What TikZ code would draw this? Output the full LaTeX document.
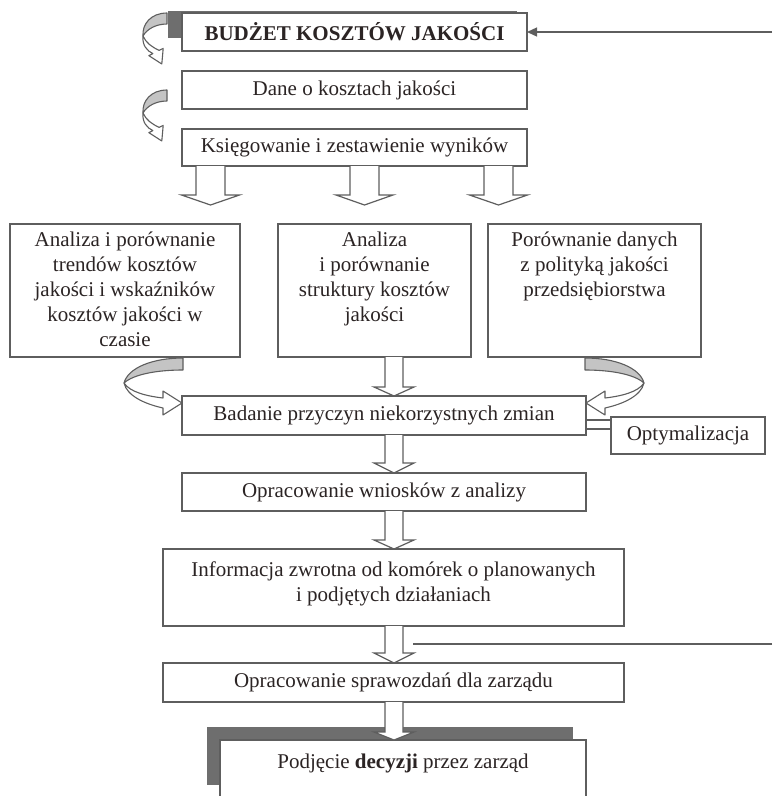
\documentclass[tikz,border=0pt]{standalone}
\usepackage{fontspec}
\setmainfont{Liberation Serif}
\usetikzlibrary{calc,arrows.meta}
\definecolor{linecol}{HTML}{5E5E5E}
\definecolor{txtcol}{HTML}{2B2424}
\definecolor{shadecol}{HTML}{6E6E6E}
\definecolor{bandcol}{HTML}{C4C4C4}
\newcommand\fs{\fontsize{21}{25}\selectfont}
% hollow block arrow: start point, tip point, shaft half width, head half width, head length
\newcommand\barrow[5]{%
  \draw[blk] ($(#1)+({-#3},0)$) -- ($(#2)+({-#3},{-#5})$) -- ($(#2)+({-#4},{-#5})$) -- (#2)
    -- ($(#2)+({#4},{-#5})$) -- ($(#2)+({#3},{-#5})$) -- ($(#1)+({#3},0)$);}
% small curved arrow at the top left
\newcommand\topcurve{%
  \draw[band, fill=bandcol] (167,13) .. controls (151,13) and (142,24) .. (143,36)
    .. controls (147,29) and (156,24) .. (167,24) -- cycle;
  \draw[band, fill=white] (143,36) .. controls (142,45) and (147,51) .. (152.9,53.6)
    -- (148.8,55.6) -- (161.8,64) -- (163.2,48.4) -- (159.1,50.4)
    .. controls (152,47) and (146,43) .. (143,36) -- cycle;}
% curved arrow from a row box into the analysis box
\newcommand\lowcurve{%
  \draw[band, fill=bandcol] (183,358) .. controls (152,358) and (128,368) .. (124,383)
    .. controls (134,374) and (158,370) .. (183,370) -- cycle;
  \draw[band, fill=white] (124,383) .. controls (127,396) and (145,404) .. (163,408)
    -- (163,415) -- (182,403) -- (163,391) -- (163,398)
    .. controls (146,396) and (130,392) .. (124,383) -- cycle;}
\begin{document}
\begin{tikzpicture}[x=1pt,y=-1pt,
  box/.style={draw=linecol, line width=1.4pt, fill=white, inner sep=0pt, outer sep=0pt,
    text=txtcol, font=\fs, align=center},
  txt/.style={text=txtcol, font=\fs, align=center, inner sep=0pt, outer sep=0pt},
  blk/.style={draw=linecol, fill=white, line width=1.2pt, line join=miter},
  band/.style={draw=linecol, line width=1.1pt, line join=round},
  shade/.style={fill=shadecol, draw=none},
  conn/.style={draw=linecol, line width=1.3pt}]
\useasboundingbox (0,0) rectangle (772,796);

% top column
\fill[shade] (168,11) rectangle (517,38);
\node[box, minimum width=345pt, minimum height=38pt] (budzet) at (354.5,32) {\bfseries BUDŻET KOSZTÓW JAKOŚCI};
\node[box, minimum width=345pt, minimum height=38pt] (dane) at (354.5,90) {Dane o kosztach jakości};
\node[box, minimum width=345pt, minimum height=37pt] (ksieg) at (354.5,147.5) {Księgowanie i zestawienie wyników};

\topcurve
\begin{scope}[shift={(0,77)}]\topcurve\end{scope}

\coordinate (rin) at (772,32);
\draw[conn, -{Triangle[length=10pt,width=9pt]}] (rin) -- (budzet.east);

% three arrows
\coordinate (t1) at (210.5,205);
\coordinate (t2) at (364.5,205);
\coordinate (t3) at (498.5,205);
\barrow{ksieg.south -| t1}{t1}{14.5}{29}{10}
\barrow{ksieg.south -| t2}{t2}{14.5}{28.5}{10}
\barrow{ksieg.south -| t3}{t3}{14.5}{29}{10}

% row of analysis boxes
\node[box, minimum width=230pt, minimum height=133pt] (L) at (125,290.5) {};
\node[txt, anchor=north] (Lt) at ($(L.north)+(0,8)$) {Analiza i porównanie\\trendów kosztów\\jakości i wskaźników\\kosztów jakości w\\czasie};
\node[box, minimum width=193pt, minimum height=133pt] (M) at (374.5,290.5) {};
\node[txt, anchor=north] (Mt) at ($(M.north)+(0,8)$) {Analiza\\i porównanie\\struktury kosztów\\jakości};
\node[box, minimum width=213pt, minimum height=133pt] (R) at (594.5,290.5) {};
\node[txt, anchor=north] (Rt) at ($(R.north)+(0,8)$) {Porównanie danych\\z polityką jakości\\przedsiębiorstwa};

% analysis of causes
\node[box, minimum width=404pt, minimum height=39pt] (bad) at (384,415.5) {Badanie przyczyn niekorzystnych zmian};
\node[box, minimum width=154pt, minimum height=37pt] (opt) at (688,435.5) {Optymalizacja};
\draw[conn] (bad.east |- 0,420) -- (opt.west |- 0,420);
\draw[conn] (bad.east |- 0,429) -- (opt.west |- 0,429);

\lowcurve
\begin{scope}[shift={(768,0)}, xscale=-1]\lowcurve\end{scope}

\coordinate (ax) at (394,0);
\barrow{M.south -| ax}{bad.north -| ax}{9}{20}{9}

\node[box, minimum width=404pt, minimum height=38pt] (wn) at (384,492) {Opracowanie wniosków z analizy};
\barrow{bad.south -| ax}{wn.north -| ax}{9}{20}{10}

\node[box, minimum width=461pt, minimum height=77pt] (info) at (393.5,587.5) {};
\node[txt, anchor=north] (infot) at ($(info.north)+(0,13)$) {Informacja zwrotna od komórek o planowanych\\i podjętych działaniach};
\barrow{wn.south -| ax}{info.north -| ax}{9}{20}{9}

\node[box, minimum width=461pt, minimum height=39pt] (spr) at (393.5,682.5) {Opracowanie sprawozdań dla zarządu};
\barrow{info.south -| ax}{spr.north -| ax}{9}{20}{10}

\coordinate (rl1) at (772,644);
\coordinate (rl2) at (413,644);
\draw[conn] (rl1) -- (rl2);

% decision
\fill[shade] (207,727) rectangle (573,785);
\node[box, minimum width=366pt, minimum height=60pt] (podj) at (403,770) {};
\node[txt] (podjt) at (403,763) {Podjęcie \textbf{decyzji} przez zarząd};
\barrow{spr.south -| ax}{podj.north -| ax}{9}{20}{8}
\end{tikzpicture}
\end{document}
